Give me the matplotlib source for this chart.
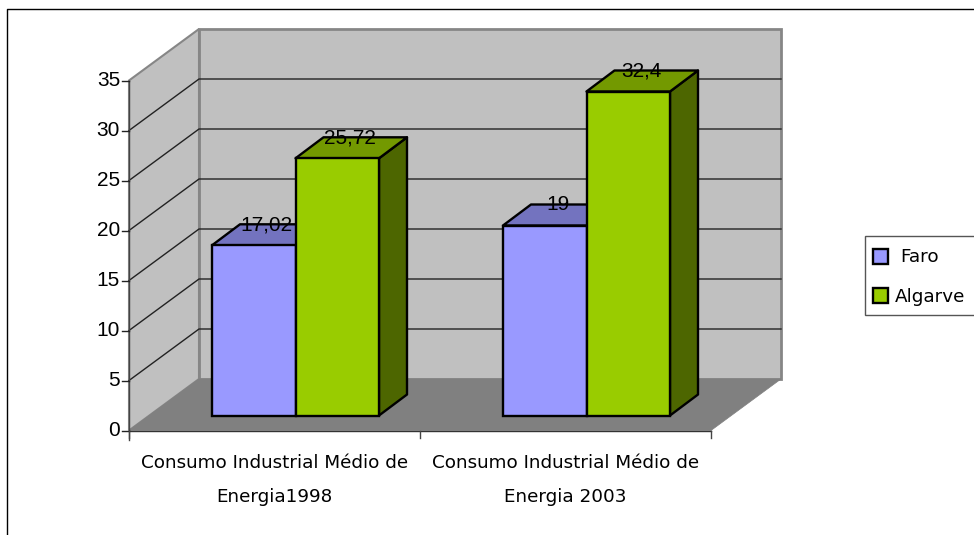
import matplotlib
matplotlib.use("Agg")
import matplotlib.pyplot as plt
from matplotlib.patches import Polygon, Rectangle

# dados
categorias = ["Consumo Industrial Médio de\nEnergia1998", "Consumo Industrial Médio de\nEnergia 2003"]
series = ["Faro", "Algarve"]
faro = [17.02, 19]
algarve = [25.72, 32.4]
rotulos_faro = ["17,02", "19"]
rotulos_algarve = ["25,72", "32,4"]
ticks = [0, 5, 10, 15, 20, 25, 30, 35]

cores = {"Faro": ("#9999FF", "#7373BF", "#4D4D80"), "Algarve": ("#99CC00", "#739900", "#4D6600")}

fig = plt.figure(figsize=(9.74, 5.35), dpi=100)
ax = fig.add_axes([0, 0, 1, 1])
ax.set_xlim(0, 974)
ax.set_ylim(535, 0)
ax.axis("off")

# geometria do grafico
x0 = 129
y0 = 430.5
larg_cat = 291
px_val = 10
prof_x = 70
prof_y = 51.5
n_cat = len(categorias)
x1 = x0 + larg_cat * n_cat
ymax = ticks[-1]


def vy(v):
    return y0 - v * px_val


FONTE = "DejaVu Sans"
FS = 13.2

# moldura
ax.plot([7, 7, 974], [535, 8.5, 8.5], color="black", lw=1.0, zorder=1)

# paredes e chao
ax.add_patch(Polygon([(x0 + prof_x, vy(0) - prof_y), (x1 + prof_x, vy(0) - prof_y),
                      (x1 + prof_x, vy(ymax) - prof_y), (x0 + prof_x, vy(ymax) - prof_y)],
                     fc="#C0C0C0", ec="#868686", lw=2, zorder=2))
ax.add_patch(Polygon([(x0, vy(0)), (x0 + prof_x, vy(0) - prof_y),
                      (x0 + prof_x, vy(ymax) - prof_y), (x0, vy(ymax))],
                     fc="#C0C0C0", ec="#868686", lw=1.5, zorder=2))
ax.add_patch(Polygon([(x0, vy(0)), (x1, vy(0)), (x1 + prof_x, vy(0) - prof_y), (x0 + prof_x, vy(0) - prof_y)],
                     fc="#808080", ec="#808080", lw=0.5, zorder=3))

# grelha
for t in ticks[1:-1]:
    ax.plot([x0, x0 + prof_x, x1 + prof_x], [vy(t), vy(t) - prof_y, vy(t) - prof_y],
            color="#222222", lw=1.0, zorder=3)

# eixos
ax.plot([x0, x0], [vy(0) + 9, vy(ymax)], color="#444444", lw=1.0, zorder=4)
ax.plot([x0, x1], [vy(0), vy(0)], color="#333333", lw=1.0, zorder=4)
for t in ticks:
    ax.plot([x0 - 7, x0], [vy(t), vy(t)], color="#222222", lw=1.0, zorder=4)
    ax.text(x0 - 9, vy(t), str(t), ha="right", va="center", fontsize=15,
            family="Liberation Sans", zorder=5)
for i in range(n_cat + 1):
    xt = x0 + larg_cat * i
    ax.plot([xt, xt], [vy(0), vy(0) + 7], color="#444444", lw=1.0, zorder=4)

# barras
larg_barra = 83.5
b_dx = 28
b_dy = 21
desl_x = 21
desl_y = 15
z = 6
for i in range(n_cat):
    centro = x0 + larg_cat * (i + 0.5) + desl_x
    for j, (nome, vals, rot) in enumerate([("Faro", faro, rotulos_faro), ("Algarve", algarve, rotulos_algarve)]):
        esq = centro + (j - 1) * larg_barra
        dir_ = esq + larg_barra
        base = vy(0) - desl_y
        topo = base - vals[i] * px_val
        frente, cima, lado = cores[nome]
        ax.add_patch(Polygon([(dir_, base), (dir_ + b_dx, base - b_dy), (dir_ + b_dx, topo - b_dy), (dir_, topo)],
                             fc=lado, ec="black", lw=1.7, joinstyle="round", zorder=z))
        ax.add_patch(Polygon([(esq, topo), (dir_, topo), (dir_ + b_dx, topo - b_dy), (esq + b_dx, topo - b_dy)],
                             fc=cima, ec="black", lw=1.7, joinstyle="round", zorder=z))
        ax.add_patch(Rectangle((esq, topo), larg_barra, base - topo, fc=frente, ec="black", lw=1.7, zorder=z + 1))
        ax.text(esq + b_dx + 0.5 * larg_barra - 15, topo - b_dy + 0.5, rot[i], ha="center", va="center",
                fontsize=15, family="Liberation Sans", color="black", zorder=z + 2)
    z += 3

# rotulos das categorias
for i, c in enumerate(categorias):
    ax.text(x0 + larg_cat * (i + 0.5), vy(0) + 32, c.split("\n")[0], ha="center", va="center",
            fontsize=FS, family=FONTE)
    ax.text(x0 + larg_cat * (i + 0.5), vy(0) + 66, c.split("\n")[1], ha="center", va="center",
            fontsize=FS, family=FONTE)

# legenda
ax.add_patch(Rectangle((865, 236), 112, 79, fc="white", ec="#555555", lw=1.0, zorder=5))
for nome, yl, xt in [("Faro", 256, 900), ("Algarve", 295.5, 895)]:
    ax.add_patch(Rectangle((873, yl - 7.5), 15, 15, fc=cores[nome][0], ec="black", lw=1.7, zorder=6))
    ax.text(xt, yl + 1, nome, ha="left", va="center", fontsize=FS, family=FONTE, zorder=6)

fig.savefig("out.png", dpi=100)
